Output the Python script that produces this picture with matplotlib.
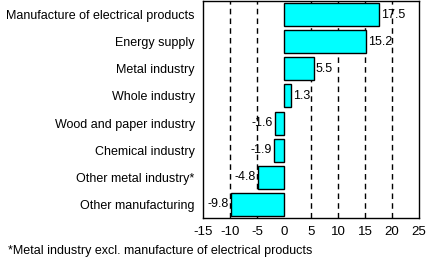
import matplotlib
matplotlib.use("Agg")
import matplotlib.pyplot as plt

categories = ["Manufacture of electrical products", "Energy supply", "Metal industry",
              "Whole industry", "Wood and paper industry", "Chemical industry",
              "Other metal industry*", "Other manufacturing"]
values = [17.5, 15.2, 5.5, 1.3, -1.6, -1.9, -4.8, -9.8]
xticks = [-15, -10, -5, 0, 5, 10, 15, 20, 25]
footnote = "*Metal industry excl. manufacture of electrical products"

plt.rcParams['font.family'] = ['Liberation Sans', 'DejaVu Sans']
fig = plt.figure(figsize=(4.26, 2.59), dpi=100)
ax = fig.add_axes([203/426, 1 - 218/259, 216/426, 217/259])

y = list(range(len(categories)))
ax.barh(y, values, height=0.85, color="#00FFFF", edgecolor="black", linewidth=1.0, zorder=3)
for xv in xticks[1:-1]:
    if xv != 0:
        ax.axvline(xv, color="black", linestyle=(0, (4, 3)), linewidth=1.0, zorder=1)

for yi, v in zip(y, values):
    if v >= 0:
        ax.text(v + 0.4, yi, f"{v:.1f}", va="center", ha="left", fontsize=9, zorder=4)
    else:
        ax.text(v - 0.4, yi, f"{v:.1f}", va="center", ha="right", fontsize=9, zorder=4)

ax.set_xlim(-15, 25)
ax.set_ylim(len(categories) - 0.5, -0.5)
ax.set_xticks(xticks)
ax.set_xticklabels([str(t) for t in xticks], fontsize=9.5)
ax.set_yticks(y)
ax.set_yticklabels(categories, fontsize=9)
ax.tick_params(axis="both", length=0, pad=6)
for s in ax.spines.values():
    s.set_linewidth(1.0)

fig.text(8/426, 1 - 251/259, footnote, fontsize=9, va="center", ha="left")
fig.savefig("out.png", dpi=100)
